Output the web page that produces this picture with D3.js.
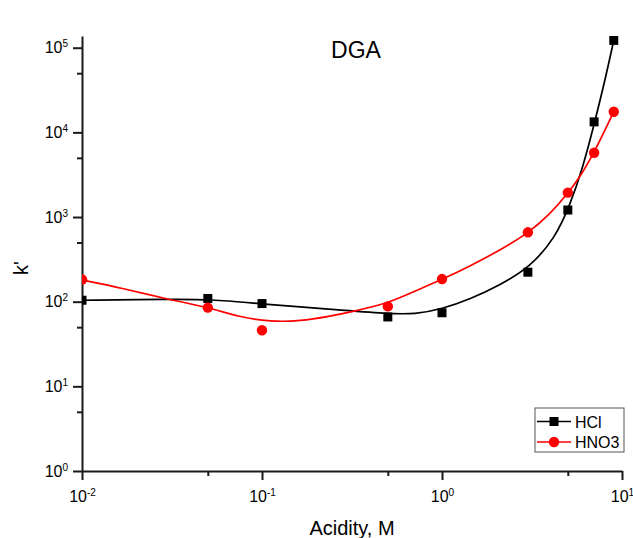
<!DOCTYPE html>
<html>
<head>
<meta charset="utf-8">
<script src="https://cdn.jsdelivr.net/npm/d3@7"></script>
<style>
  body { margin: 0; background: #fff; }
  svg { display: block; font-family: "Liberation Sans", Arial, sans-serif; }
</style>
</head>
<body>
<div id="chart"></div>
<script>
"use strict";

// measured points
const acidity = [0.01, 0.05, 0.1, 0.5, 1, 3, 5, 7, 9];
const kHCl = [104, 109, 95, 66, 74, 223, 1210, 13300, 122000];
const kHNO3 = [183, 85, 46, 88, 185, 660, 1940, 5750, 17500];

// fitted curves
const fitHClX = [0.01, 0.0308, 0.0514, 0.1, 0.239, 0.501, 0.708, 1, 1.43, 2.1, 3.08, 4.24, 5.14, 6.07, 6.99, 8.05, 9];
const fitHClY = [104, 107, 107, 94, 81.5, 72, 71, 82, 107, 157, 256, 560, 1380, 3890, 12200, 41500, 122000];
const fitHNO3X = [0.01, 0.0169, 0.0297, 0.0501, 0.0755, 0.111, 0.163, 0.239, 0.308, 0.501, 0.664, 1, 1.43, 2.1, 3.01, 3.98, 5.01, 5.84, 6.99, 9];
const fitHNO3Y = [180, 144, 107, 86, 65.6, 58, 58.9, 67.4, 75.2, 96, 126, 183, 263, 406, 645, 1080, 1915, 2960, 5690, 17500];

const xMajor = [0.01, 0.1, 1, 10];
const xMinor = [0.05, 0.5, 5];
const yMajor = [1, 10, 100, 1000, 10000, 100000];
const yMinor = [5, 50, 500, 5000, 50000];

const seriesNames = ["HCl", "HNO3"];
const seriesColors = ["#000000", "#ff0000"];

const width = 633, height = 538;
const margin = {top: 36, right: 11, bottom: 67, left: 82};
const plotW = width - margin.left - margin.right;
const plotH = height - margin.top - margin.bottom;

const svg = d3.select('#chart').append('svg')
              .attr('width', width)
              .attr('height', height);

const x = d3.scaleLog().domain([0.01, 10]).range([0, plotW]);
const y = d3.scaleLog().domain([1, 137500]).range([plotH, 0]);

const g = svg.append('g')
             .attr('transform', `translate(${margin.left},${margin.top})`);

svg.append('defs').append('clipPath')
   .attr('id', 'plot-clip')
   .append('rect')
   .attr('x', 0).attr('y', 0)
   .attr('width', plotW + 20).attr('height', plotH);

/*-- axes -------------------------------------------------------------------*/
const supLabel = function(sel){
    sel.each(function(d){
        const t = d3.select(this);
        t.text('');
        t.append('tspan').text('10');
        t.append('tspan')
         .attr('dy', '-6')
         .attr('font-size', '10px')
         .text(Math.round(Math.log10(d)));
    });
};

const xAxisG = g.append('g')
                .attr('transform', `translate(0,${plotH})`)
                .call(d3.axisBottom(x).tickValues(xMajor).tickSize(9).tickSizeOuter(0));
xAxisG.selectAll('.tick text')
      .attr('y', 31).attr('dy', 0)
      .attr('font-size', '16px')
      .call(supLabel);

g.append('g')
 .attr('transform', `translate(0,${plotH})`)
 .call(d3.axisBottom(x).tickValues(xMinor).tickSize(5).tickFormat(''))
 .select('.domain').remove();

const yAxisG = g.append('g')
                .call(d3.axisLeft(y).tickValues(yMajor).tickSize(9).tickSizeOuter(0));
yAxisG.selectAll('.tick text')
      .attr('x', -14)
      .attr('font-size', '16px')
      .call(supLabel);

g.append('g')
 .call(d3.axisLeft(y).tickValues(yMinor).tickSize(5).tickFormat(''))
 .select('.domain').remove();

g.selectAll('.domain, .tick line')
 .attr('stroke', '#1a1a1a')
 .attr('stroke-width', 2);
g.selectAll('.tick text').attr('fill', '#000').attr('font-family', '"Liberation Sans", Arial, sans-serif');

/*-- curves and markers -----------------------------------------------------*/
const line = d3.line()
               .x(function(d){ return x(d[0]); })
               .y(function(d){ return y(d[1]); })
               .curve(d3.curveBasis);

const plot = g.append('g').attr('clip-path', 'url(#plot-clip)');

plot.append('path')
    .datum(d3.zip(fitHClX, fitHClY))
    .attr('d', line)
    .attr('fill', 'none')
    .attr('stroke', seriesColors[0])
    .attr('stroke-width', 1.7);

plot.append('path')
    .datum(d3.zip(fitHNO3X, fitHNO3Y))
    .attr('d', line)
    .attr('fill', 'none')
    .attr('stroke', seriesColors[1])
    .attr('stroke-width', 1.7);

const sq = 9;
plot.selectAll('rect.hcl')
    .data(d3.zip(acidity, kHCl))
    .enter()
    .append('rect')
    .attr('class', 'hcl')
    .attr('x', function(d){ return x(d[0]) - sq / 2; })
    .attr('y', function(d){ return y(d[1]) - sq / 2; })
    .attr('width', sq).attr('height', sq)
    .attr('fill', seriesColors[0]);

plot.selectAll('circle.hno3')
    .data(d3.zip(acidity, kHNO3))
    .enter()
    .append('circle')
    .attr('class', 'hno3')
    .attr('cx', function(d){ return x(d[0]); })
    .attr('cy', function(d){ return y(d[1]); })
    .attr('r', 5.2)
    .attr('fill', seriesColors[1]);

/*-- text -------------------------------------------------------------------*/
svg.append('text')
   .attr('x', 356).attr('y', 58)
   .attr('text-anchor', 'middle')
   .attr('font-size', '23px')
   .text('DGA');

svg.append('text')
   .attr('x', margin.left + plotW / 2).attr('y', 535)
   .attr('text-anchor', 'middle')
   .attr('font-size', '20px')
   .text('Acidity, M');

svg.append('text')
   .attr('transform', 'translate(28,268) rotate(-90)')
   .attr('text-anchor', 'middle')
   .attr('font-size', '20px')
   .text("k'");

/*-- legend -----------------------------------------------------------------*/
const legend = svg.append('g').attr('transform', 'translate(535,408)');
legend.append('rect')
      .attr('width', 89).attr('height', 44)
      .attr('fill', '#fff')
      .attr('stroke', '#555')
      .attr('stroke-width', 1);

const legendRow = legend.selectAll('g.row')
                        .data(seriesNames)
                        .enter()
                        .append('g')
                        .attr('class', 'row')
                        .attr('transform', function(d, i){ return `translate(0,${13.5 + i * 20.5})`; });

legendRow.append('line')
         .attr('x1', 2).attr('x2', 36)
         .attr('stroke', function(d, i){ return seriesColors[i]; })
         .attr('stroke-width', 1.7);

legendRow.each(function(d, i){
    const r = d3.select(this);
    if (i === 0){
        r.append('rect')
         .attr('x', 19 - sq / 2).attr('y', -sq / 2)
         .attr('width', sq).attr('height', sq)
         .attr('fill', seriesColors[0]);
    } else {
        r.append('circle')
         .attr('cx', 19).attr('r', 5.2)
         .attr('fill', seriesColors[1]);
    }
});

legendRow.append('text')
         .attr('x', 40).attr('y', 6)
         .attr('font-size', '16px')
         .text(function(d){ return d; });
</script>
</body>
</html>
